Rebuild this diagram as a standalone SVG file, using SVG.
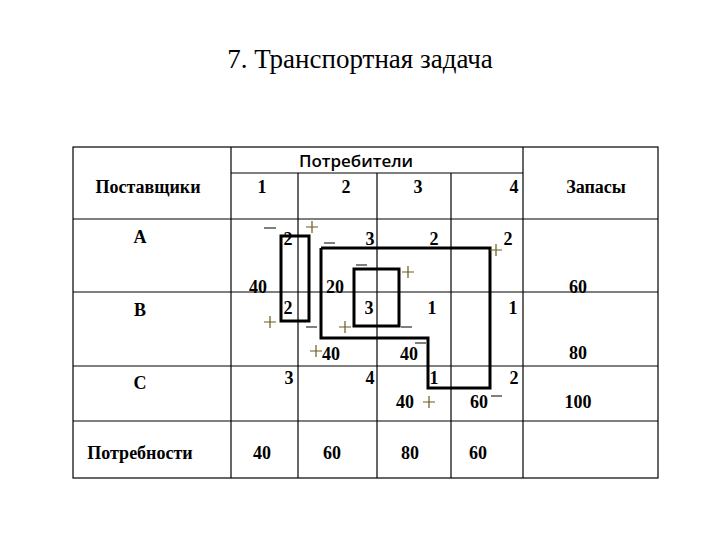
<svg xmlns="http://www.w3.org/2000/svg" width="720" height="540" viewBox="0 0 720 540">
<style>
.t{font-family:"Liberation Serif",serif;font-weight:bold;font-size:18px;fill:#000;text-anchor:middle}
.g{stroke:#000;stroke-width:1.2;fill:none}
.c{stroke:#000;stroke-width:3;fill:none}
.p{stroke:#6b5a1e;stroke-width:1.2;fill:none}
.m{stroke:#000;stroke-width:1.2;fill:none}
</style>
<rect width="720" height="540" fill="#fff"/>
<text x="360" y="68" class="t" style="font-size:27px;font-weight:normal">7. Транспортная задача</text>
<g id="grid">
<rect x="73" y="147" width="585" height="331" class="g"/>
<line x1="231" y1="147" x2="231" y2="478" class="g"/>
<line x1="523" y1="147" x2="523" y2="478" class="g"/>
<line x1="298" y1="173" x2="298" y2="478" class="g"/>
<line x1="377" y1="173" x2="377" y2="478" class="g"/>
<line x1="451" y1="173" x2="451" y2="478" class="g"/>
<line x1="231" y1="173" x2="523" y2="173" class="g"/>
<line x1="73" y1="219" x2="658" y2="219" class="g"/>
<line x1="73" y1="292" x2="658" y2="292" class="g"/>
<line x1="73" y1="366" x2="658" y2="366" class="g"/>
<line x1="73" y1="421" x2="658" y2="421" class="g"/>
</g>
<g id="headers">
<text x="356" y="167" class="t" style="font-family:'Open Sans',sans-serif;font-size:17px;font-weight:600">Потребители</text>
<text x="148" y="193" class="t">Поставщики</text>
<text x="262" y="193" class="t">1</text>
<text x="346" y="193" class="t">2</text>
<text x="418" y="193" class="t">3</text>
<text x="514" y="193" class="t">4</text>
<text x="596" y="193" class="t">Запасы</text>
<text x="140" y="243" class="t">A</text>
<text x="140" y="316" class="t">B</text>
<text x="140" y="389" class="t">C</text>
<text x="140" y="459" class="t">Потребности</text>
</g>
<g id="connectors">
<rect x="281" y="236" width="28" height="85" class="c"/>
<polyline points="321,248 490,248 490,388 428,388 428,338 321,338 321,248" class="c"/>
<rect x="354" y="269" width="45" height="57" class="c"/>
</g>
<g id="cells">
<text x="288" y="245" class="t">2</text>
<text x="370" y="245" class="t">3</text>
<text x="434" y="245" class="t">2</text>
<text x="508" y="245" class="t">2</text>
<text x="258" y="293" class="t">40</text>
<text x="335" y="293" class="t">20</text>
<text x="578" y="293" class="t">60</text>
<text x="288" y="314" class="t">2</text>
<text x="369" y="314" class="t">3</text>
<text x="432" y="314" class="t">1</text>
<text x="513" y="314" class="t">1</text>
<text x="331" y="360" class="t">40</text>
<text x="409" y="360" class="t">40</text>
<text x="578" y="359" class="t">80</text>
<text x="289" y="384" class="t">3</text>
<text x="370" y="384" class="t">4</text>
<text x="434" y="384" class="t">1</text>
<text x="514" y="384" class="t">2</text>
<text x="405" y="408" class="t">40</text>
<text x="479" y="408" class="t">60</text>
<text x="578" y="408" class="t">100</text>
<text x="262" y="459" class="t">40</text>
<text x="332" y="459" class="t">60</text>
<text x="410" y="459" class="t">80</text>
<text x="478" y="459" class="t">60</text>
</g>
<g id="signs">
<path d="M264,228h12M324,243h11M356,265h11M401,327h11M306,327h11M415,343h11M491,396h11" class="m"/>
<path d="M306,227h12M312,221v12M490,250h12M496,244v12M402,272h12M408,266v12M264,322h12M270,316v12M339,327h12M345,321v12M310,351h12M316,345v12M423,402h12M429,396v12" class="p"/>
</g>
</svg>
